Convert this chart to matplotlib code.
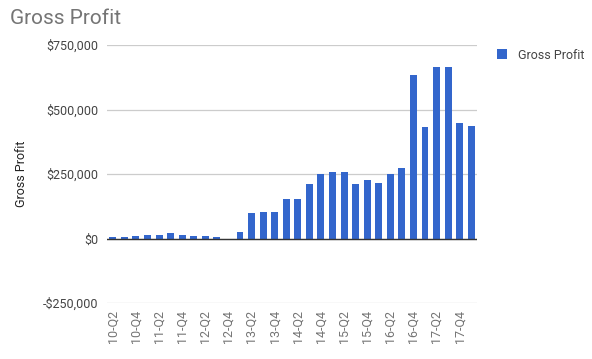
#!/usr/bin/env python3

"""Gross profit per quarter, bar chart."""

import matplotlib
matplotlib.use('Agg')
import matplotlib.pyplot as plt
from matplotlib.ticker import FuncFormatter

QUARTERS = ['10-Q2', '10-Q3', '10-Q4',
            '11-Q1', '11-Q2', '11-Q3', '11-Q4',
            '12-Q1', '12-Q2', '12-Q3', '12-Q4',
            '13-Q1', '13-Q2', '13-Q3', '13-Q4',
            '14-Q1', '14-Q2', '14-Q3', '14-Q4',
            '15-Q1', '15-Q2', '15-Q3', '15-Q4',
            '16-Q1', '16-Q2', '16-Q3', '16-Q4',
            '17-Q1', '17-Q2', '17-Q3', '17-Q4',
            '18-Q1']
GROSS_PROFIT = [5000, 5000, 9000, 15000, 15000, 20000, 15000, 9000,
                9000, 5000, -5000, 25000, 98000, 103000, 103000, 155000,
                155000, 213000, 250000, 258000, 258000, 213000, 228000, 216000,
                250000, 274000, 634000, 432000, 664000, 664000, 447000, 436000]
Y_TICKS = [-250000, 0, 250000, 500000, 750000]

BLUE = '#3366cc'


def money(val, _pos):
  """Format tick as dollars."""
  if val < 0:
    return f"-${-val:,.0f}"
  return f"${val:,.0f}"


def main():
  """Draw and save."""
  plt.rcParams['font.family'] = ['Roboto', 'DejaVu Sans']
  fig = plt.figure(figsize=(5.92, 3.59), dpi=100)
  ax1 = fig.add_axes([107 / 592, 1 - 303 / 359, 370 / 592, 258 / 359])

  x_pos = list(range(len(QUARTERS)))
  ax1.bar(x_pos, GROSS_PROFIT, width=0.6, color=BLUE, label='Gross Profit', zorder=3)

  ax1.set_ylim(Y_TICKS[0], Y_TICKS[-1])
  ax1.set_xlim(-0.5, len(QUARTERS) - 0.5)
  ax1.set_yticks(Y_TICKS)
  ax1.yaxis.set_major_formatter(FuncFormatter(money))
  ax1.grid(which='major', axis='y', color='#cccccc', linewidth=0.9, zorder=0)
  ax1.axhline(y=0, color='#333333', linewidth=1.0, zorder=4)

  ax1.set_xticks(x_pos[::2])
  ax1.set_xticklabels(QUARTERS[::2], rotation=90, color='#757575', fontsize=9)
  ax1.tick_params(axis='both', length=0)
  ax1.tick_params(axis='x', pad=5)
  ax1.tick_params(axis='y', colors='#444444', labelsize=9, pad=6)

  for side in ['top', 'right', 'left', 'bottom']:
    ax1.spines[side].set_visible(False)

  ax1.set_ylabel('Gross Profit', fontsize=9, color='#222222', labelpad=11)
  fig.text(10 / 592, 1 - 18 / 359, 'Gross Profit', fontsize=15, color='#757575',
           ha='left', va='center')

  ax1.legend(loc='upper left', bbox_to_anchor=(1.025, 1.03), frameon=False,
             fontsize=9, labelcolor='#444444', handlelength=0.8, handleheight=0.8,
             handletextpad=0.8)

  plt.savefig(fname='out.png', format='png', dpi=100)


if __name__ == "__main__":
  main()
